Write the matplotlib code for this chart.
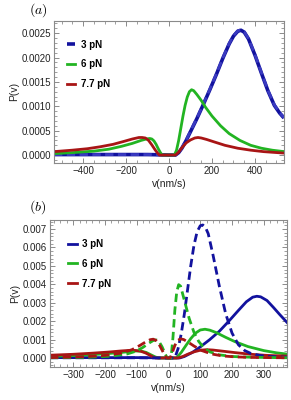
import matplotlib
matplotlib.use("Agg")
import matplotlib.pyplot as plt
from matplotlib.ticker import MultipleLocator, FuncFormatter

plt.rcParams['font.family'] = ['Liberation Sans', 'DejaVu Sans']
plt.rcParams['mathtext.fontset'] = 'cm'

BLUE = '#12129e'
GREEN = '#22b422'
RED = '#a81515'

labels = ['3 pN', '6 pN', '7.7 pN']

# ---------------- panel (a) ----------------
va_blue = [-535, -400, -200, -100, -40, 0, 30, 45, 60, 80, 100, 130, 160, 190, 220, 250, 280, 300, 320, 335, 350, 370, 400, 430, 460, 490, 515, 535]
pa_blue = [0.00001, 0.00001, 0.00001, 0.00001, 0.000005, 0.0, 0.0, 0.00005, 0.00014, 0.00030, 0.00048, 0.00075, 0.00104, 0.00134, 0.00165, 0.00198, 0.00228, 0.00244, 0.00254, 0.00256, 0.00252, 0.00238, 0.00205, 0.00168, 0.00132, 0.00102, 0.00086, 0.00076]
pa_blue_d = [0.00001, 0.00001, 0.00001, 0.00001, 0.000005, 0.0, 0.0, 0.00005, 0.00015, 0.00031, 0.00049, 0.00076, 0.00105, 0.00135, 0.00166, 0.00199, 0.00229, 0.00245, 0.00255, 0.00257, 0.00253, 0.00239, 0.00206, 0.00169, 0.00133, 0.00103, 0.00087, 0.00077]

va_green = [-535, -450, -350, -280, -220, -170, -130, -105, -90, -80, -70, -60, -50, -40, -32, 0, 25, 35, 45, 55, 65, 75, 85, 95, 105, 115, 130, 150, 170, 200, 240, 280, 330, 380, 430, 480, 535]
pa_green = [0.00003, 0.00005, 0.00008, 0.00012, 0.00018, 0.00024, 0.00030, 0.00033, 0.00034, 0.00033, 0.00029, 0.00022, 0.00013, 0.00005, 0.0, 0.0, 0.0, 0.00010, 0.00030, 0.00055, 0.00080, 0.00102, 0.00119, 0.00130, 0.00134, 0.00132, 0.00124, 0.00112, 0.00098, 0.00080, 0.00060, 0.00044, 0.00030, 0.00020, 0.00014, 0.00010, 0.00007]

va_red = [-535, -450, -380, -320, -260, -210, -170, -140, -125, -110, -95, -80, -65, -55, -45, 0, 30, 45, 60, 80, 100, 120, 135, 150, 175, 210, 260, 320, 380, 440, 535]
pa_red = [0.00007, 0.00010, 0.00013, 0.00017, 0.00022, 0.00028, 0.00033, 0.00036, 0.00036, 0.00035, 0.00030, 0.00021, 0.00011, 0.00005, 0.0, 0.0, 0.0, 0.00006, 0.00015, 0.00025, 0.00031, 0.00035, 0.00036, 0.00035, 0.00032, 0.00027, 0.00020, 0.00014, 0.00010, 0.00007, 0.00004]

# ---------------- panel (b) ----------------
vb_blue = [-373, -200, -100, -40, 0, 35, 50, 75, 100, 130, 160, 190, 220, 245, 265, 278, 290, 310, 330, 350, 373]
pb_blue = [0.00002, 0.00002, 0.00002, 0.00001, 0.0, 0.0, 0.00008, 0.00030, 0.00060, 0.00100, 0.00145, 0.00200, 0.00258, 0.00305, 0.00330, 0.00335, 0.00332, 0.00312, 0.00275, 0.00236, 0.00193]

vb_blue_d = [-373, -200, -100, 0, 20, 30, 40, 50, 60, 70, 80, 90, 100, 108, 116, 125, 140, 160, 180, 200, 220, 240, 260, 290, 320, 373]
pb_blue_d = [0.00001, 0.00001, 0.00001, 0.0, 0.0, 0.00050, 0.00130, 0.00240, 0.00370, 0.00500, 0.00610, 0.00685, 0.00718, 0.00722, 0.00710, 0.00675, 0.00560, 0.00390, 0.00240, 0.00135, 0.00072, 0.00040, 0.00024, 0.00013, 0.00008, 0.00004]

vb_green = [-373, -300, -240, -190, -150, -120, -100, -85, -70, -55, -42, -32, 0, 25, 40, 55, 70, 85, 100, 115, 130, 150, 180, 210, 250, 300, 340, 373]
pb_green = [0.00009, 0.00013, 0.00018, 0.00024, 0.00030, 0.00035, 0.00038, 0.00037, 0.00030, 0.00017, 0.00006, 0.0, 0.0, 0.0, 0.00030, 0.00068, 0.00105, 0.00135, 0.00152, 0.00156, 0.00151, 0.00138, 0.00112, 0.00088, 0.00062, 0.00040, 0.00028, 0.00021]

vb_green_d = [-373, -250, -180, -130, -100, -80, -62, -48, -38, -30, -20, -10, -4, 8, 14, 20, 26, 32, 38, 45, 55, 65, 80, 95, 110, 130, 160, 200, 260, 373]
pb_green_d = [0.00001, 0.00004, 0.00010, 0.00022, 0.00038, 0.00058, 0.00080, 0.00095, 0.00098, 0.00090, 0.00060, 0.00020, 0.0, 0.0, 0.00110, 0.00260, 0.00360, 0.00398, 0.00390, 0.00345, 0.00280, 0.00215, 0.00140, 0.00090, 0.00058, 0.00033, 0.00017, 0.00008, 0.00004, 0.00001]

vb_red = [-373, -300, -240, -190, -150, -125, -105, -88, -72, -58, -48, -40, 0, 30, 45, 60, 80, 100, 120, 140, 170, 210, 260, 310, 373]
pb_red = [0.00015, 0.00020, 0.00026, 0.00032, 0.00038, 0.00041, 0.00041, 0.00037, 0.00027, 0.00014, 0.00005, 0.0, 0.0, 0.0, 0.00008, 0.00020, 0.00033, 0.00042, 0.00045, 0.00043, 0.00037, 0.00029, 0.00020, 0.00014, 0.00010]

vb_red_d = [-373, -260, -200, -150, -115, -90, -72, -58, -48, -40, -30, -20, -12, -5, 5, 12, 20, 28, 38, 48, 60, 80, 105, 135, 170, 210, 260, 373]
pb_red_d = [0.00002, 0.00007, 0.00014, 0.00026, 0.00045, 0.00068, 0.00087, 0.00099, 0.00102, 0.00096, 0.00075, 0.00042, 0.00015, 0.0, 0.0, 0.00030, 0.00068, 0.00094, 0.00104, 0.00100, 0.00088, 0.00065, 0.00040, 0.00022, 0.00011, 0.00006, 0.00003, 0.00001]

fig = plt.figure(figsize=(2.91, 4.0), dpi=100)
W, H = 291.0, 400.0
ax1 = fig.add_axes([54 / W, 1 - 163 / H, 230 / W, 142.5 / H])
ax2 = fig.add_axes([50 / W, 1 - 367 / H, 237 / W, 147 / H])

LW = 2.0
DASH = (0, (3.0, 1.6))

# panel a
l1, = ax1.plot(va_blue, pa_blue, color=BLUE, lw=2.6, solid_capstyle='butt')
ax1.plot(va_blue, pa_blue_d, color='#3a3ac0', lw=2.0, linestyle=DASH)
l2, = ax1.plot(va_green, pa_green, color=GREEN, lw=LW)
l3, = ax1.plot(va_red, pa_red, color=RED, lw=LW)
ax1.set_xlim(-535, 535)
ax1.set_ylim(-0.000163, 0.00276)

# panel b
m1, = ax2.plot(vb_blue, pb_blue, color=BLUE, lw=LW)
m2, = ax2.plot(vb_green, pb_green, color=GREEN, lw=LW)
m3, = ax2.plot(vb_red, pb_red, color=RED, lw=LW)
ax2.plot(vb_blue_d, pb_blue_d, color=BLUE, lw=LW, linestyle=DASH)
ax2.plot(vb_green_d, pb_green_d, color=GREEN, lw=LW, linestyle=DASH)
ax2.plot(vb_red_d, pb_red_d, color=RED, lw=LW, linestyle=DASH)
ax2.set_xlim(-373, 373)
ax2.set_ylim(-0.00049, 0.00749)

def xfmt(v, pos):
    s = '%d' % round(v)
    return s.replace('-', '\u2212')

for ax, xmaj, xmin, ymaj, ymin, yd in [(ax1, 200, 50, 0.0005, 0.0001, 4), (ax2, 100, 20, 0.001, 0.0002, 3)]:
    ax.xaxis.set_major_locator(MultipleLocator(xmaj))
    ax.xaxis.set_minor_locator(MultipleLocator(xmin))
    ax.yaxis.set_major_locator(MultipleLocator(ymaj))
    ax.yaxis.set_minor_locator(MultipleLocator(ymin))
    ax.xaxis.set_major_formatter(FuncFormatter(xfmt))
    ax.yaxis.set_major_formatter(FuncFormatter(lambda v, p, d=yd: ('%.' + str(d) + 'f') % (0.0 if abs(v) < 1e-12 else v)))
    ax.tick_params(which='both', direction='in', top=True, right=True, colors='#777777',
                   labelcolor='#222222', labelsize=7, pad=2)
    ax.tick_params(which='major', length=3.5, width=0.6)
    ax.tick_params(which='minor', length=2, width=0.5)
    for s in ax.spines.values():
        s.set_color('#8a8a8a')
        s.set_linewidth(0.8)
    ax.set_xlabel('v(nm/s)', fontsize=7.5, labelpad=2, color='#222222')
    ax.set_ylabel('P(v)', fontsize=7.5, labelpad=2, color='#222222')

leg1 = ax1.legend([l1, l2, l3], labels, loc='upper left', bbox_to_anchor=(0.055, 0.865),
                  frameon=False, handlelength=0.9, handletextpad=0.6, labelspacing=1.0,
                  prop={'weight': 'bold', 'size': 7}, borderaxespad=0, borderpad=0)
leg2 = ax2.legend([m1, m2, m3], labels, loc='upper left', bbox_to_anchor=(0.075, 0.87),
                  frameon=False, handlelength=0.9, handletextpad=0.6, labelspacing=1.0,
                  prop={'weight': 'bold', 'size': 7}, borderaxespad=0, borderpad=0)

fig.text(38 / W, 1 - 10 / H, r'$(a)$', fontsize=10, va='center', ha='center')
fig.text(38 / W, 1 - 207 / H, r'$(b)$', fontsize=10, va='center', ha='center')

fig.savefig('out.png', dpi=100)
